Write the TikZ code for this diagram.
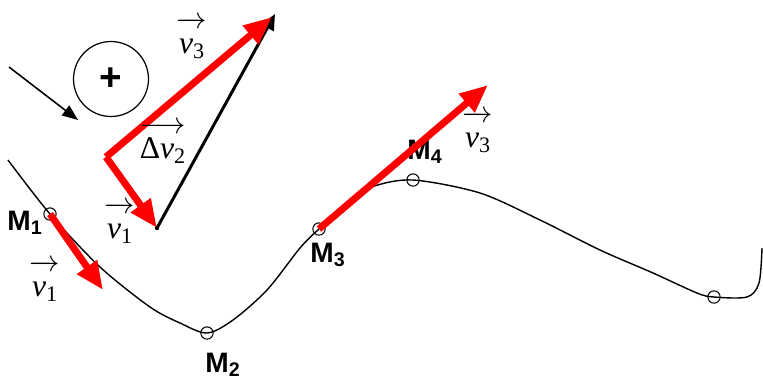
\documentclass[tikz,border=0pt]{standalone}
\usepackage{amsmath}
\usepackage{fontspec}
\setmainfont{Liberation Sans}
\newfontfamily\tms{Liberation Serif}
\usetikzlibrary{arrows.meta}
\newcommand{\vv}[2][]{$\overrightarrow{\rule{0pt}{0.8em}\text{\tms #1\itshape v}_{\text{\tms #2}}}$}
\tikzset{>=Stealth,
  vred/.style={red, line width=4pt, -{Triangle[length=16pt, width=13pt]}},
  mk/.style={draw, circle, line width=0.6pt, inner sep=0pt, minimum size=7pt},
  mlab/.style={inner sep=0pt, font=\bfseries\fontsize{16}{18}\selectfont},
  vlab/.style={inner sep=0pt, font=\fontsize{18}{20}\selectfont}}

\begin{document}
\begin{tikzpicture}[x=0.02cm, y=-0.02cm]
  \useasboundingbox (0,0) rectangle (763,380);
  % trajectory
  \draw[line width=0.8pt] plot[smooth, tension=0.5] coordinates {(8,160) (50,214) (100,267) (150,307)
    (180,323) (207,333) (233,320) (267,290) (300,248) (319,229) (347,206) (372,187) (413,180)
    (480,193) (540,220) (600,250) (653,273) (697,293) (714,297) (747,297) (759,283) (762,248)};
  \node[mk] (m1) at (50,214) {};
  \node[mk] (m2) at (207,333) {};
  \node[mk] (m3) at (319,229) {};
  \node[mk] (m4) at (413,180) {};
  \node[mk] (m5) at (714,297) {};
  \node[mlab] (lm1) at (25,223) {M\textsubscript{1}};
  \node[mlab] (lm2) at (223,365) {M\textsubscript{2}};
  \node[mlab] (lm3) at (328,255) {M\textsubscript{3}};
  \node[mlab] (lm4) at (425,152) {M\textsubscript{4}};
  % velocity vectors on the path
  \coordinate (t1) at (103,290);
  \coordinate (t3) at (488,85);
  \draw[vred] (m1.center) -- (t1);
  \draw[vred] (m3.center) -- (t3);
  \node[vlab] (lv1) at (45,281) {\vv{1}};
  \node[vlab] (lv3) at (478,132) {\vv{3}};
  % vector triangle
  \coordinate (o) at (106,157);
  \node[fill, circle, inner sep=0pt, minimum size=2.5pt] (vone) at (157,228) {};
  \coordinate (vthree) at (275,14);
  \draw[line width=1.7pt, -{Triangle[length=9pt, width=8pt]}] (vone.center) -- (vthree);
  \draw[vred] (o) -- (vone.center);
  \draw[vred] (o) -- ([shift={(-3,3)}]vthree);
  \node[vlab] (tv1) at (120,223) {\vv{1}};
  \node[vlab] (tdv2) at (163,143) {\vv[Δ]{2}};
  \node[vlab] (tv3) at (192,38) {\vv{3}};
  % rotation sign
  \node[draw, circle, line width=0.7pt, minimum size=1.5cm, inner sep=0pt,
    font=\bfseries\fontsize{22}{24}\selectfont] (rot) at (111,79) {+};
  \coordinate (a0) at (9,67);
  \coordinate (a1) at (78,120);
  \draw[line width=0.9pt, -{Triangle[length=9pt, width=7pt]}] (a0) -- (a1);
\end{tikzpicture}
\end{document}
